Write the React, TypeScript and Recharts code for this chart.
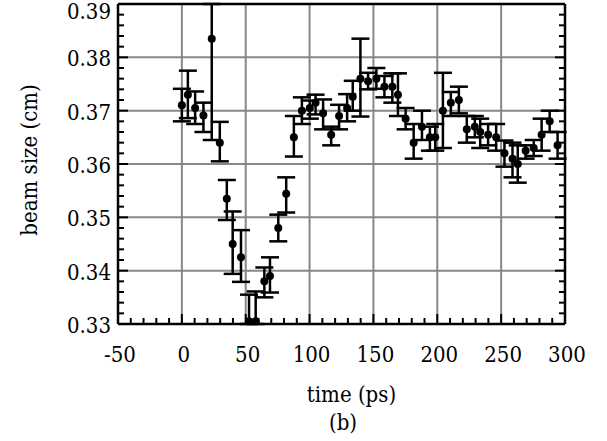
import React from 'react';
import { ScatterChart, Scatter, XAxis, YAxis, CartesianGrid, ErrorBar, Label } from 'recharts';

const timePs = [0, 4.7, 10.4, 16.9, 23.4, 29.7, 35.2, 39.8, 46.3, 52.6, 57.8, 64.6, 69, 75.5, 81.7, 87.7, 94, 100.2, 104.7, 110.6, 116.9, 123.1, 129.4, 133.8, 139.8, 145.8, 152.3, 158.6, 164.8, 169.2, 175.2, 181.5, 188, 194.2, 198.4, 204.4, 210.6, 216.9, 223.1, 229.4, 233.6, 239.8, 246.1, 252.6, 258.9, 263, 269.2, 275.5, 281.7, 288, 294.2];
const beamSize = [0.371, 0.373, 0.3705, 0.3691, 0.3835, 0.364, 0.3535, 0.345, 0.3425, 0.3305, 0.3305, 0.338, 0.339, 0.348, 0.3544, 0.365, 0.370, 0.3705, 0.3715, 0.3695, 0.3655, 0.369, 0.3705, 0.3726, 0.376, 0.3755, 0.376, 0.3745, 0.3745, 0.373, 0.3685, 0.364, 0.367, 0.365, 0.365, 0.370, 0.3715, 0.372, 0.3665, 0.367, 0.366, 0.3655, 0.365, 0.362, 0.361, 0.360, 0.3625, 0.363, 0.3655, 0.368, 0.3635];
const beamHigh = [0.3741, 0.3775, 0.3736, 0.3715, 0.39, 0.3679, 0.357, 0.3511, 0.3476, 0.3355, 0.3361, 0.3406, 0.3425, 0.3505, 0.3575, 0.369, 0.3725, 0.3719, 0.373, 0.3721, 0.367, 0.3711, 0.3731, 0.3756, 0.3835, 0.3771, 0.378, 0.3765, 0.377, 0.377, 0.3705, 0.3675, 0.370, 0.367, 0.3675, 0.3771, 0.3735, 0.3745, 0.369, 0.369, 0.3685, 0.3675, 0.3675, 0.3644, 0.364, 0.3635, 0.3635, 0.3645, 0.3685, 0.370, 0.366];
const beamLow = [0.368, 0.3686, 0.3675, 0.366, 0.3645, 0.3605, 0.3495, 0.3394, 0.3379, 0.33, 0.33, 0.335, 0.3359, 0.3455, 0.3509, 0.3614, 0.3675, 0.3685, 0.3693, 0.3665, 0.3635, 0.3665, 0.368, 0.370, 0.3689, 0.374, 0.3741, 0.3725, 0.3715, 0.369, 0.3665, 0.361, 0.3645, 0.3625, 0.3625, 0.363, 0.369, 0.3695, 0.364, 0.365, 0.363, 0.3635, 0.3625, 0.3595, 0.3575, 0.3565, 0.361, 0.3615, 0.3625, 0.366, 0.361];

const xMajorTicks = [-50, 0, 50, 100, 150, 200, 250, 300];
const xTickLabels = ['-50', '0', '50', '100', '150', '200', '250', '300'];
const yMajorTicks = [0.33, 0.34, 0.35, 0.36, 0.37, 0.38, 0.39];
const yTickLabels = ['0.33', '0.34', '0.35', '0.36', '0.37', '0.38', '0.39'];
const xGridValues = [0, 50, 100, 150, 200, 250];
const yGridValues = [0.34, 0.35, 0.36, 0.37, 0.38];

const xAllTicks: number[] = [];
for (let v = -50; v <= 300; v += 10) xAllTicks.push(v);
const yAllTicks: number[] = [];
for (let i = 0; i <= 30; i++) yAllTicks.push(Number((0.33 + i * 0.002).toFixed(3)));

const data = timePs.map((t, i) => ({
  t,
  s: beamSize[i],
  err: [beamSize[i] - beamLow[i], beamHigh[i] - beamSize[i]],
}));

const FONT = "'DejaVu Serif Condensed', 'DejaVu Serif', serif";
const FS = 22;
const MAJOR = 10;
const MINOR = 6;
const FRAME = 2.5;

const xMajorIdx = (v: number) => xMajorTicks.findIndex((m) => Math.abs(m - v) < 1e-6);
const yMajorIdx = (v: number) => yMajorTicks.findIndex((m) => Math.abs(m - v) < 1e-6);

const textStyle = { fontFamily: FONT, fontSize: FS, fill: '#000' };

const BottomTick = (p: any) => {
  const idx = xMajorIdx(p.payload.value);
  const len = idx >= 0 ? MAJOR : MINOR;
  return (
    <g>
      <line x1={p.x} x2={p.x} y1={p.y} y2={p.y - len} stroke="#000" strokeWidth={2} />
      {idx >= 0 && (
        <text x={p.x + 2} y={p.y + 38} textAnchor="middle" style={textStyle}>
          {xTickLabels[idx]}
        </text>
      )}
    </g>
  );
};
const TopTick = (p: any) => {
  const idx = xMajorIdx(p.payload.value);
  const len = idx >= 0 ? MAJOR : MINOR;
  return <line x1={p.x} x2={p.x} y1={p.y} y2={p.y + len} stroke="#000" strokeWidth={2} />;
};
const LeftTick = (p: any) => {
  const idx = yMajorIdx(p.payload.value);
  const len = idx >= 0 ? MAJOR : MINOR;
  return (
    <g>
      <line x1={p.x} x2={p.x + len} y1={p.y} y2={p.y} stroke="#000" strokeWidth={2} />
      {idx >= 0 && (
        <text x={p.x - 7} y={Math.max(p.y + 9, 19)} textAnchor="end" style={textStyle}>
          {yTickLabels[idx]}
        </text>
      )}
    </g>
  );
};
const RightTick = (p: any) => {
  const idx = yMajorIdx(p.payload.value);
  const len = idx >= 0 ? MAJOR : MINOR;
  return <line x1={p.x} x2={p.x - len} y1={p.y} y2={p.y} stroke="#000" strokeWidth={2} />;
};

const Dot = (p: any) => <circle cx={p.cx} cy={p.cy} r={4} fill="#000" />;

const XTitle = (p: any) => {
  const vb = p.viewBox;
  return (
    <g>
      <text x={vb.x + vb.width / 2 + 10} y={vb.y + 78} textAnchor="middle" style={textStyle}>
        time (ps)
      </text>
      <text x={vb.x + vb.width / 2 + 1.5} y={vb.y + 106} textAnchor="middle" style={textStyle}>
        (b)
      </text>
    </g>
  );
};

const YTitle = (p: any) => {
  const vb = p.viewBox;
  const cx = vb.x + 37;
  const cy = vb.y + vb.height / 2 - 4;
  return (
    <text x={cx} y={cy} transform={`rotate(-90, ${cx}, ${cy})`} textAnchor="middle" style={textStyle}>
      beam size (cm)
    </text>
  );
};

export default function App() {
  return (
    <div style={{ position: 'absolute', left: 0, top: 0, background: '#fff' }}>
      <ScatterChart width={607} height={441} margin={{ top: 0, right: 32, bottom: 7, left: 0 }}>
        <CartesianGrid stroke="#888" strokeWidth={2} verticalValues={xGridValues} horizontalValues={yGridValues} />
        <XAxis
          type="number"
          dataKey="t"
          domain={[-50, 300]}
          ticks={xAllTicks}
          interval={0}
          allowDataOverflow
          height={110}
          tickSize={0}
          tickMargin={0}
          tickLine={false}
          axisLine={{ stroke: '#000', strokeWidth: FRAME }}
          tick={<BottomTick />}
        >
          <Label content={<XTitle />} />
        </XAxis>
        <XAxis
          xAxisId="top"
          orientation="top"
          type="number"
          domain={[-50, 300]}
          ticks={xAllTicks}
          interval={0}
          allowDataOverflow
          height={4}
          tickSize={0}
          tickMargin={0}
          tickLine={false}
          axisLine={{ stroke: '#000', strokeWidth: FRAME }}
          tick={<TopTick />}
        />
        <YAxis
          type="number"
          dataKey="s"
          domain={[0.33, 0.39]}
          ticks={yAllTicks}
          interval={0}
          allowDataOverflow
          width={118}
          tickSize={0}
          tickMargin={0}
          tickLine={false}
          axisLine={{ stroke: '#000', strokeWidth: FRAME }}
          tick={<LeftTick />}
        >
          <Label content={<YTitle />} />
        </YAxis>
        <YAxis
          yAxisId="right"
          orientation="right"
          type="number"
          domain={[0.33, 0.39]}
          ticks={yAllTicks}
          interval={0}
          allowDataOverflow
          width={10}
          tickSize={0}
          tickMargin={0}
          tickLine={false}
          axisLine={{ stroke: '#000', strokeWidth: FRAME }}
          tick={<RightTick />}
        />
        <Scatter data={data} dataKey="s" shape={<Dot />} isAnimationActive={false}>
          <ErrorBar dataKey="err" direction="y" width={9} stroke="#000" strokeWidth={2.5} isAnimationActive={false} />
        </Scatter>
      </ScatterChart>
    </div>
  );
}
